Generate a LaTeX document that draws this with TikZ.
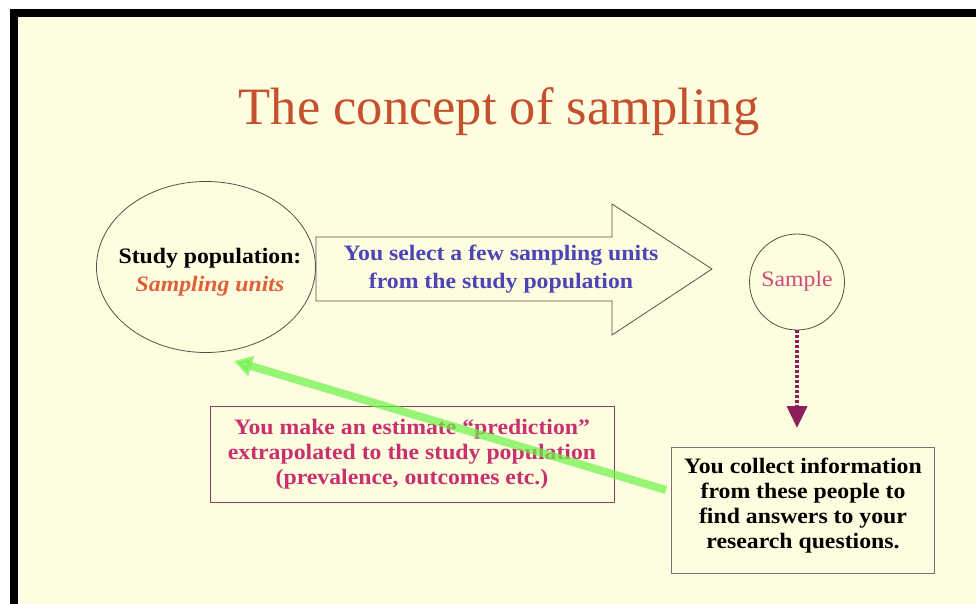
\documentclass[tikz,border=0pt]{standalone}
\usepackage{fontspec}
\setmainfont{Liberation Serif}
\newfontfamily\bodyfont{Liberation Serif}[FakeStretch=1.08]
\usetikzlibrary{arrows.meta,shapes.geometric}
\definecolor{bgcream}{HTML}{FFFDE0}
\definecolor{titlecol}{HTML}{C5502E}
\definecolor{bluecol}{HTML}{4B45B5}
\definecolor{pinkcol}{HTML}{C8306E}
\definecolor{samplecol}{HTML}{D04A74}
\definecolor{unitcol}{HTML}{E0603A}
\definecolor{dashcol}{HTML}{8E1F5C}
\definecolor{linecol}{HTML}{555048}
\definecolor{greencol}{HTML}{6CF24A}
\tikzset{
  txt/.style={font=\bodyfont\fontsize{22}{25}\selectfont\bfseries, align=center, inner sep=0pt},
  widetxt/.style={font=\bodyfont\fontsize{22}{27.5}\selectfont\bfseries, align=center, inner sep=0pt},
  shapeline/.style={draw=linecol, line width=0.8pt},
}
\begin{document}
\begin{tikzpicture}[x=1pt,y=-1pt]
\useasboundingbox (0,0) rectangle (976,604);
\fill[white] (0,0) rectangle (976,604);
\fill[black] (10,9) rectangle (976,604);
\fill[bgcream] (18,17) rectangle (976,604);
% title
\node[font=\fontsize{52.5}{58}\selectfont, text=titlecol, inner sep=0pt] (title) at (499,112) {The concept of sampling};
% study population ellipse
\node[ellipse, shapeline, minimum width=219pt, minimum height=171pt, inner sep=0pt] (pop) at (206,267) {};
\node[widetxt, text=black] (poptxt) at (210,272) {Study population:\\{\color{unitcol}\itshape Sampling units}};
% block arrow
\draw[shapeline, fill=bgcream] (316,237) -- (612,237) -- (612,204) -- (712,269) -- (612,335) -- (612,301) -- (316,301) -- cycle;
\node[widetxt, text=bluecol] (blktxt) at (501,269) {You select a few sampling units\\from the study population};
% sample circle
\node[ellipse, shapeline, minimum width=95pt, minimum height=96pt, inner sep=0pt] (smp) at (797,282) {};
\node[font=\bodyfont\fontsize{22}{25}\selectfont, text=samplecol, inner sep=0pt] (smptxt) at (797,281) {Sample};
% collect box
\node[draw=linecol!80, line width=0.8pt, minimum width=263pt, minimum height=126pt, inner sep=0pt] (col) at (803,510) {};
\node[txt, text=black] (coltxt) at (803,506) {You collect information\\from these people to\\find answers to your\\research questions.};
% prediction box
\node[draw=pinkcol!50!linecol, line width=0.8pt, minimum width=404pt, minimum height=96pt, inner sep=0pt] (pred) at (412,454) {};
\node[txt, text=pinkcol] (predtxt) at (412,454) {You make an estimate “prediction”\\extrapolated to the study population\\(prevalence, outcomes etc.)};
% dashed arrow
\coordinate (dstart) at (smp.south);
\coordinate (dend) at (797,428);
\draw[dashcol, line width=4pt, dash pattern=on 3pt off 2pt, -{Triangle[width=20pt,length=22pt,sharp]}] (dstart) -- (dend);
% green arrow
\coordinate (gstart) at (666,490);
\coordinate (gend) at (234,361);
\draw[greencol, opacity=0.7, line width=8pt, -{Triangle[width=20pt,length=18pt]}] (gstart) -- (gend);
\end{tikzpicture}
\end{document}
